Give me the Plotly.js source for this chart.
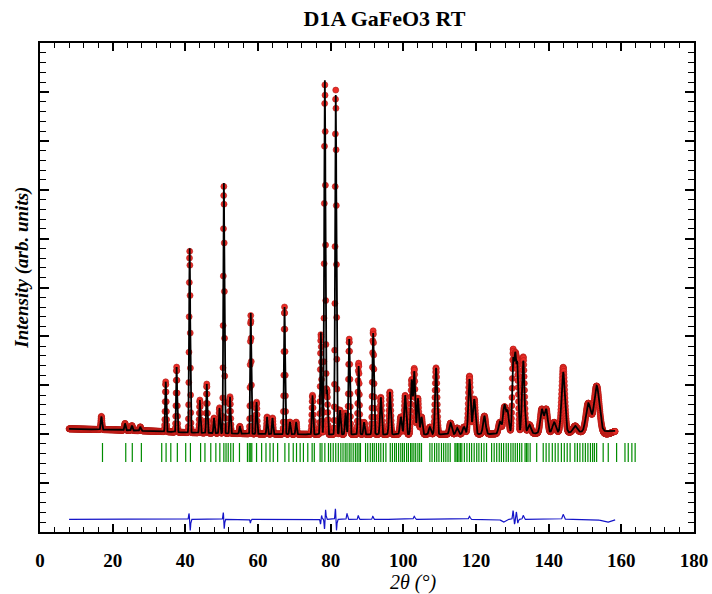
<!DOCTYPE html>
<html><head><meta charset="utf-8">
<script src="https://cdn.plot.ly/plotly-3.0.1.min.js"></script>
<style>html,body{margin:0;padding:0;background:#fff}</style>
</head><body><div id="chart" style="width:712px;height:594px"></div>
<script>
// Reflection profile (2theta in degrees, height above background, FWHM in degrees)
const peakPos    = [16.9, 23.4, 25.3, 27.6, 34.6, 37.6, 41.2, 44.0, 45.9, 47.9, 49.4, 50.6, 52.3, 55.0, 58.0, 59.6, 62.5, 64.0, 67.3, 68.8, 70.5, 75.0, 77.3, 78.4, 79.0, 81.4, 82.6, 84.1, 85.1, 87.7, 89.2, 91.7, 93.8, 96.3, 99.3, 100.5, 102.3, 103.0, 104.0, 105.0, 107.3, 109.0, 113.0, 114.8, 116.7, 118.2, 119.5, 122.3, 126.6, 127.8, 128.7, 130.2, 130.8, 131.4, 133.0, 134.7, 138.1, 139.3, 141.5, 144.0, 147.3, 150.9, 153.2];
const peakHeight = [270, 140, 100, 80, 1020, 1330, 3770, 670, 1000, 310, 520, 5120, 750, 150, 2470, 650, 350, 330, 2600, 250, 250, 800, 2090, 7240, 900, 6940, 500, 440, 1950, 1400, 250, 2075, 760, 870, 360, 800, 1110, 1280, 740, 360, 150, 1360, 230, 130, 150, 1130, 720, 370, 250, 580, 450, 1450, 1500, 1350, 1490, 180, 490, 490, 220, 1240, 130, 580, 935];
const peakFwhm   = [0.40, 0.40, 0.40, 0.40, 0.35, 0.35, 0.35, 0.35, 0.35, 0.35, 0.35, 0.35, 0.35, 0.35, 0.35, 0.35, 0.35, 0.35, 0.38, 0.38, 0.38, 0.40, 0.40, 0.40, 0.40, 0.42, 0.42, 0.42, 0.45, 0.45, 0.45, 0.50, 0.50, 0.55, 0.60, 0.60, 0.55, 0.55, 0.60, 0.60, 0.65, 0.65, 0.75, 0.75, 0.80, 0.75, 0.80, 0.85, 0.90, 0.85, 0.85, 0.60, 0.60, 0.60, 0.80, 1.00, 1.00, 1.00, 1.10, 1.10, 1.30, 1.50, 1.70];
// Background level read at a few angles
const bgAngle = [8, 20, 32, 40, 60, 80, 100, 120, 140, 158.3];
const bgLevel = [2110, 2090, 2060, 2035, 2005, 1995, 1995, 2000, 2020, 2070];
// Difference curve features (Yobs - Ycalc)
const diffPos = [41.0, 41.35, 50.45, 50.7, 57.9, 77.2, 77.5, 78.3, 78.6, 81.3, 81.6, 84.5, 87.6, 91.6, 103.0, 118.2, 127.5, 130.2, 130.6, 131.1, 131.5, 133.0, 144.0, 156.0];
const diffAmp = [120, -230, 150, -200, -80, -100, 80, -200, 200, 220, -230, 120, 80, 60, 60, 60, -60, 180, -100, 150, -80, 80, 100, -60];
const diffWidth = [0.25, 0.25, 0.25, 0.25, 0.25, 0.25, 0.25, 0.25, 0.25, 0.25, 0.25, 0.3, 0.3, 0.3, 0.4, 0.4, 1.2, 0.3, 0.3, 0.3, 0.3, 0.4, 0.5, 3.0];
const diffOffset = 260;
// Bragg reflection positions (2theta, degrees)
const braggPos = [17.2, 23.6, 25.4, 27.9, 33.5, 34.7, 36.0, 37.8, 40.1, 41.4, 44.2, 45.4, 47.0, 48.4, 49.5, 50.6, 51.2, 51.8, 52.5, 53.2, 54.9, 57.1, 57.6, 58.0, 58.3, 59.6, 61.0, 62.2, 63.3, 64.2, 65.4, 67.4, 68.5, 69.7, 70.6, 71.6, 72.5, 73.7, 74.9, 75.5, 77.1, 77.6, 78.4, 79.4, 80.0, 80.7, 81.4, 82.1, 82.8, 83.4, 84.0, 84.5, 85.1, 85.6, 86.2, 86.8, 87.3, 87.8, 88.2, 89.6, 90.2, 90.9, 91.5, 92.0, 92.6, 93.2, 93.8, 94.5, 95.2, 96.4, 97.0, 97.6, 98.1, 98.7, 99.3, 99.8, 100.3, 100.9, 101.4, 102.0, 102.4, 102.9, 103.4, 104.0, 104.5, 105.0, 107.3, 107.9, 108.6, 109.2, 109.8, 110.5, 111.1, 111.7, 112.3, 112.9, 114.2, 114.5, 114.9, 115.3, 115.7, 116.1, 116.8, 117.5, 118.2, 118.8, 119.5, 120.2, 120.8, 121.5, 122.2, 122.9, 124.3, 125.0, 125.7, 126.4, 127.0, 127.6, 128.3, 128.9, 129.6, 130.2, 130.8, 131.4, 132.0, 132.6, 133.5, 133.9, 134.3, 134.9, 136.7, 138.5, 139.3, 140.1, 141.0, 141.8, 142.6, 143.5, 144.3, 145.1, 145.9, 147.2, 147.9, 148.6, 149.4, 150.1, 150.8, 151.5, 152.1, 152.6, 153.2, 155.0, 156.4, 158.7, 161.0, 161.9, 162.9, 163.8];
const braggLow = 1431, braggHigh = 1820;
const scanStart = 8.0, scanEnd = 158.3, scanStep = 0.05;
const xTickVals = [0, 20, 40, 60, 80, 100, 120, 140, 160, 180];

function bgAt(t) {
  for (let i = 0; i < bgAngle.length - 1; i++) {
    if (t <= bgAngle[i + 1]) {
      const f = (t - bgAngle[i]) / (bgAngle[i + 1] - bgAngle[i]);
      return bgLevel[i] + f * (bgLevel[i + 1] - bgLevel[i]);
    }
  }
  return bgLevel[bgLevel.length - 1];
}
const tt = [], yCalc = [], yObs = [], yDiff = [];
const n = Math.round((scanEnd - scanStart) / scanStep);
for (let k = 0; k <= n; k++) {
  const t = scanStart + k * scanStep;
  let c = bgAt(t);
  for (let j = 0; j < peakPos.length; j++) {
    const s = peakFwhm[j] / 2.3548;
    const d = t - peakPos[j];
    if (Math.abs(d) < 6 * s) c += peakHeight[j] * Math.exp(-0.5 * d * d / (s * s));
  }
  let dd = 0;
  for (let j = 0; j < diffPos.length; j++) {
    const s = diffWidth[j] / 2.3548;
    const d = t - diffPos[j];
    if (Math.abs(d) < 6 * s) dd += diffAmp[j] * Math.exp(-0.5 * d * d / (s * s));
  }
  tt.push(t); yCalc.push(c); yObs.push(c + dd); yDiff.push(diffOffset + dd);
}
const bx = [], by = [];
braggPos.forEach(p => { bx.push(p, p, null); by.push(braggLow, braggHigh, null); });

const serif = '"Liberation Serif", "Times New Roman", serif';
const data = [
  {x: tt, y: yObs, type: 'scatter', mode: 'markers', name: 'Yobs',
   marker: {color: 'rgb(235,45,40)', size: 6, line: {color: 'rgb(175,25,20)', width: 0.6}}},
  {x: tt, y: yCalc, type: 'scatter', mode: 'lines', name: 'Ycalc',
   line: {color: 'black', width: 1.8}},
  {x: bx, y: by, type: 'scatter', mode: 'lines', name: 'Bragg',
   line: {color: 'rgb(0,140,0)', width: 1.2}},
  {x: tt, y: yDiff, type: 'scatter', mode: 'lines', name: 'Yobs-Ycalc',
   line: {color: 'rgb(20,20,200)', width: 1.2}}
];
const layout = {
  width: 712, height: 594,
  margin: {l: 40, r: 18, t: 43, b: 62},
  paper_bgcolor: 'white', plot_bgcolor: 'white',
  showlegend: false,
  title: {text: 'D1A GaFeO3 RT', x: 0.54, xanchor: 'center', y: 0.97, yanchor: 'middle',
          font: {family: serif, size: 22, color: 'black', weight: 'bold'}},
  xaxis: {range: [0, 180], tickvals: xTickVals, ticktext: xTickVals.map(String),
          ticks: 'inside', ticklen: 8, tickwidth: 2, tickcolor: 'black',
          showline: true, linewidth: 2, linecolor: 'black', mirror: 'ticks',
          showgrid: false, zeroline: false, ticklabelstandoff: 10,
          minor: {dtick: 4, tick0: 0, ticks: 'inside', ticklen: 5, tickwidth: 1, tickcolor: 'black', showgrid: false},
          tickfont: {family: serif, size: 19, color: 'black', weight: 'bold'},
          title: {text: ''}},
  yaxis: {range: [0, 10000], dtick: 1000, tick0: 0, showticklabels: false,
          ticks: 'inside', ticklen: 9, tickwidth: 2, tickcolor: 'black',
          showline: true, linewidth: 2, linecolor: 'black', mirror: 'ticks',
          showgrid: false, zeroline: false,
          minor: {dtick: 200, tick0: 0, ticks: 'inside', ticklen: 6, tickwidth: 1, tickcolor: 'black', showgrid: false},
          title: {text: ''}},
  annotations: [
    {text: '<b><i>Intensity (arb. units)</i></b>', xref: 'paper', yref: 'paper', x: -0.028, y: 0.54,
     xanchor: 'center', yanchor: 'middle', textangle: -90, showarrow: false,
     font: {family: serif, size: 19, color: 'black'}},
    {text: '<i>2θ (°)</i>', xref: 'paper', yref: 'paper', x: 0.57, y: -0.104,
     xanchor: 'center', yanchor: 'middle', showarrow: false,
     font: {family: serif, size: 20, color: 'black'}}
  ]
};
Plotly.newPlot('chart', data, layout, {staticPlot: true, displayModeBar: false});
</script></body></html>
